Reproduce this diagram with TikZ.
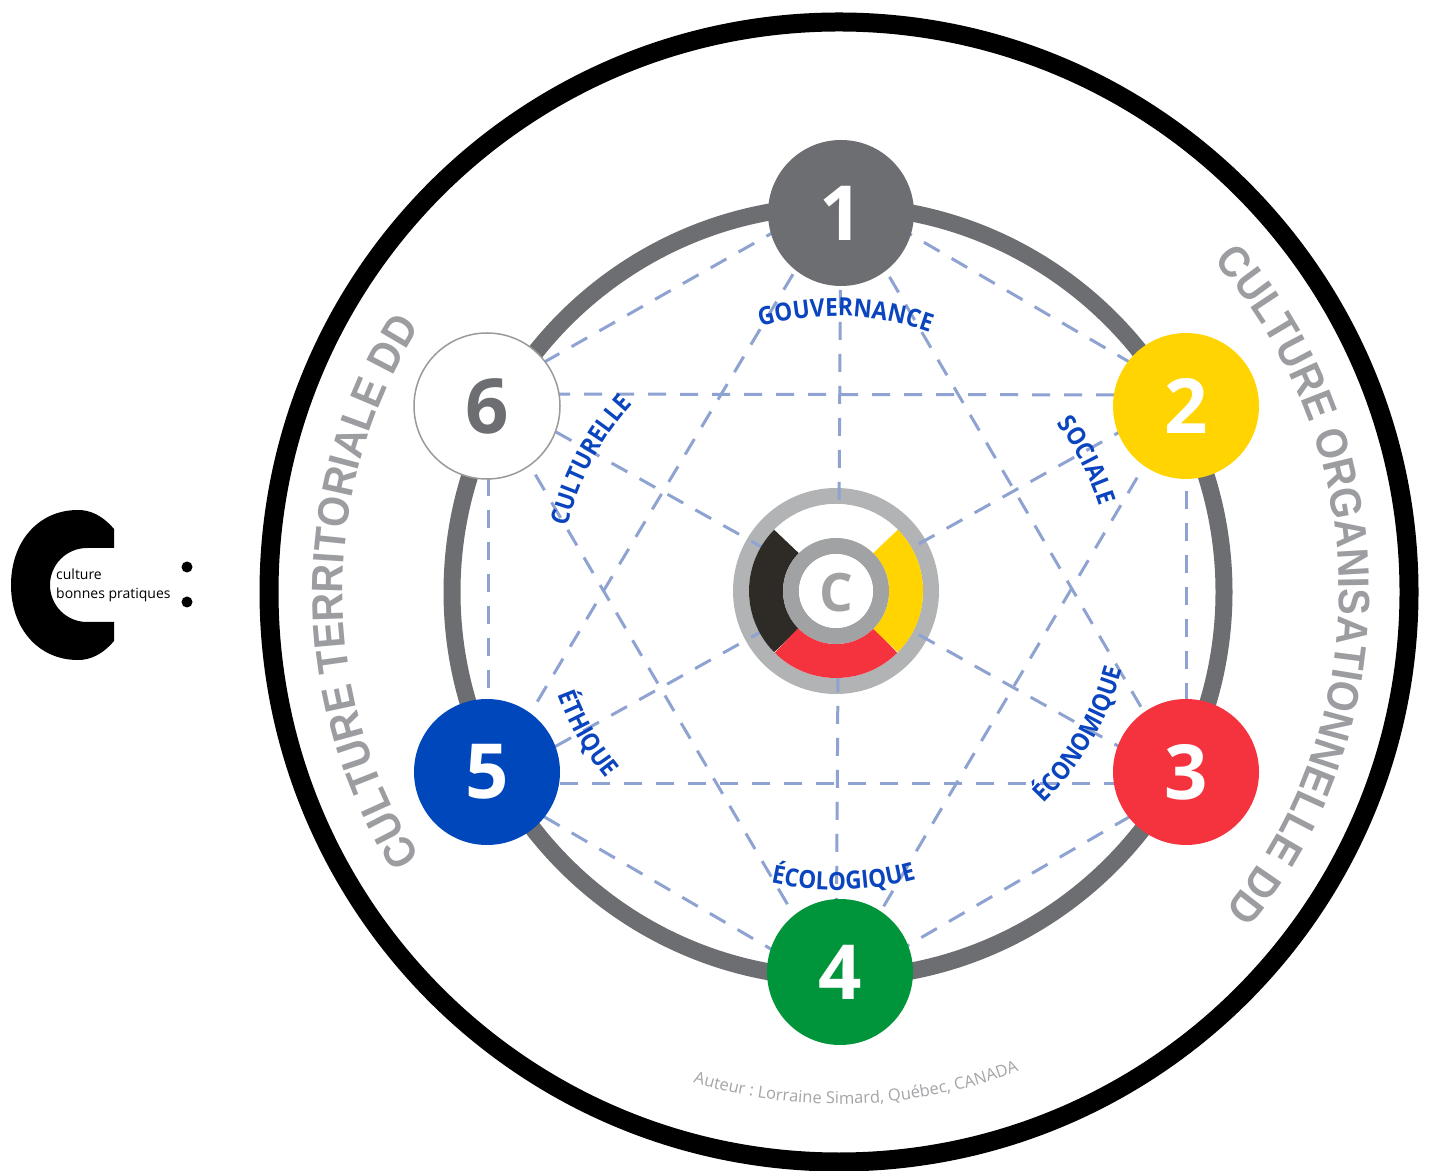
\documentclass[tikz,border=0pt]{standalone}
\usepackage{fontspec}
\setmainfont{Open Sans}
\newfontfamily\helv[FakeStretch=0.9]{Liberation Sans}
\newfontfamily\labfont[FakeStretch=0.9]{Open Sans}
\usetikzlibrary{decorations.text}
\definecolor{ringgray}{HTML}{6D6E71}
\definecolor{nyellow}{HTML}{FFD400}
\definecolor{nred}{HTML}{F5333F}
\definecolor{ngreen}{HTML}{00953A}
\definecolor{nblue}{HTML}{0047BB}
\definecolor{dashblue}{HTML}{8EA3D1}
\definecolor{labblue}{HTML}{0A44BF}
\definecolor{bigtextgray}{HTML}{9C9DA0}
\definecolor{authgray}{HTML}{A3A5A8}
\definecolor{embout}{HTML}{B1B3B5}
\definecolor{embin}{HTML}{A1A2A4}
\definecolor{segblack}{HTML}{2E2B27}
\definecolor{border6}{HTML}{9A9A9A}
\tikzset{
  numnode/.style={circle, minimum size=146pt, inner sep=0pt, text=white,
    font=\bfseries\fontsize{76}{76}\selectfont},
  starline/.style={dashblue, line width=3pt, dash pattern=on 18pt off 14pt},
  lab/.style={decorate, decoration={text along path, text align=center,
    text color=labblue, text={|\labfont\bfseries\fontsize{25}{25}\selectfont|#1}}},
  bigtext/.style={decorate, decoration={text along path, text align=center,
    text color=bigtextgray, text={|\helv\bfseries\fontsize{44}{44}\selectfont|#1}}},
  authtext/.style={decorate, decoration={text along path, text align=center,
    text color=authgray, text={|\fontsize{16.5}{16.5}\selectfont|#1}}},
  segment/.style={line width=34pt}
}
\begin{document}
\begin{tikzpicture}[x=1pt,y=1pt]
\useasboundingbox (0,0) rectangle (1429,1170);
\fill[white] (0,0) rectangle (1429,1170);
\coordinate (c) at (836,579);
\coordinate (o) at (839,578);
\coordinate (rc) at (838,578);
% outer black circle
\draw[black, line width=19pt] (o) circle[radius=570pt];
% main gray ring
\draw[ringgray, line width=17pt] (rc) circle[radius=386pt];
% emblem outer ring
\draw[embout, line width=16pt] (c) circle[radius=95pt];
% star vertices
\coordinate (v1) at (841,976);
\coordinate (v2) at (1186,775);
\coordinate (v3) at (1186,386);
\coordinate (v4) at (836,183);
\coordinate (v5) at (488,386);
\coordinate (v6) at (488,776);
\foreach \a/\b in {v1/v2,v2/v3,v3/v4,v4/v5,v5/v6,v6/v1,
                   v1/v3,v3/v5,v5/v1,v2/v4,v4/v6,v6/v2,
                   v1/v4,v2/v5,v3/v6}
  \draw[starline] (\a) -- (\b);
% emblem coloured ring
\draw[segment, white] (c) ++(45:70pt) arc[start angle=45, end angle=135, radius=70pt];
\draw[segment, segblack] (c) ++(135:70pt) arc[start angle=135, end angle=225, radius=70pt];
\draw[segment, nred] (c) ++(225:70pt) arc[start angle=225, end angle=315, radius=70pt];
\draw[segment, nyellow] (c) ++(-45:70pt) arc[start angle=-45, end angle=45, radius=70pt];
\draw[embin, line width=16pt] (c) circle[radius=45pt];
\fill[white] (c) circle[radius=37pt];
\node[font=\bfseries\fontsize{53}{53}\selectfont, text=embin, inner sep=0pt] (cc) at (836,577) {C};
% numbered nodes
\node[numnode, fill=ringgray] (n1) at (841,957) {1};
\node[numnode, fill=nyellow] (n2) at (1186,764) {2};
\node[numnode, fill=nred] (n3) at (1186,398) {3};
\node[numnode, fill=ngreen] (n4) at (840,198) {4};
\node[numnode, fill=nblue] (n5) at (487,398) {5};
\node[numnode, fill=white, draw=border6, line width=1.5pt, text=ringgray] (n6) at (487,764) {6};
% dimension labels
\path[lab=GOUVERNANCE] (c) ++(118:275pt) arc[start angle=118, end angle=58, radius=275pt];
\path[lab=SOCIALE] (c) ++(57.5:277pt) arc[start angle=57.5, end angle=-2.5, radius=277pt];
\path[lab=CULTURELLE] (c) ++(187:276pt) arc[start angle=187, end angle=117, radius=276pt];
\path[lab=ÉCONOMIQUE] (c) ++(-65.5:297pt) arc[start angle=-65.5, end angle=4.5, radius=297pt];
\path[lab=ÉCOLOGIQUE] (c) ++(236.5:299pt) arc[start angle=236.5, end angle=306.5, radius=299pt];
\path[lab=ÉTHIQUE] (c) ++(179.8:297pt) arc[start angle=179.8, end angle=239.8, radius=297pt];
% big outer texts
\path[bigtext={CULTURE TERRITORIALE DD}] (o) ++(226:496pt) arc[start angle=226, end angle=134, radius=496pt];
\path[bigtext={CULTURE ORGANISATIONNELLE DD}] (o) ++(51:500pt) arc[start angle=51, end angle=-49, radius=500pt];
% author
\path[authtext={Auteur : Lorraine Simard, Québec, CANADA}] (o) ++(246:512pt) arc[start angle=246, end angle=298, radius=512pt];
% logo
\fill[black] (114,641) .. controls (102,655) and (90,660) .. (78,660)
  .. controls (38,660) and (11,628) .. (11,585)
  .. controls (11,542) and (38,510) .. (78,510)
  .. controls (90,510) and (102,515) .. (114,529)
  -- (114,548) -- (87,548)
  arc[start angle=270, end angle=90, radius=37pt] -- (114,622) -- cycle;
\node[anchor=base west, font=\fontsize{14}{14}\selectfont, inner sep=0pt] (lg1) at (56,590) {culture};
\node[anchor=base west, font=\fontsize{14}{14}\selectfont, inner sep=0pt] (lg2) at (56,571) {bonnes pratiques};
\fill[black] (187,603) circle[radius=5.5pt];
\fill[black] (187,568) circle[radius=5.5pt];
\end{tikzpicture}
\end{document}
